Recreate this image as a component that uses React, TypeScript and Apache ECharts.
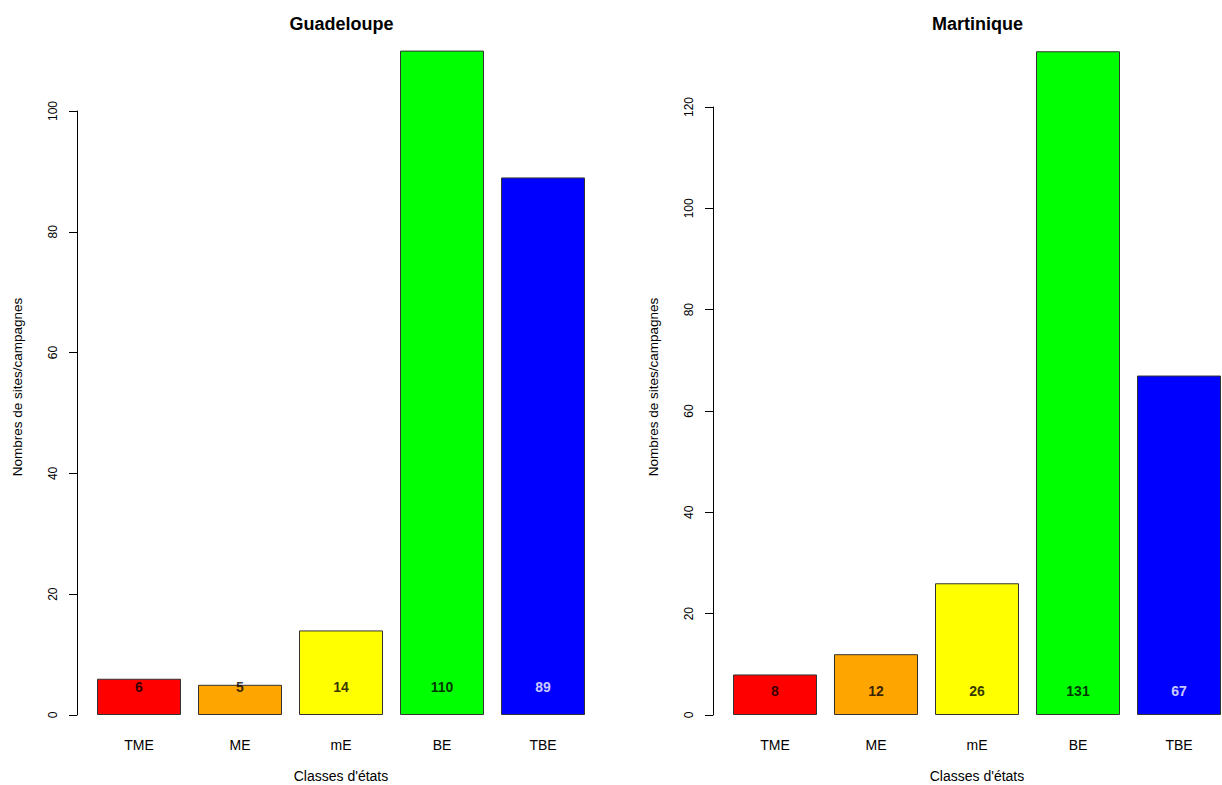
import React, { useEffect, useRef } from "react";
import * as echarts from "echarts";

const categories = ["TME", "ME", "mE", "BE", "TBE"];
const guadeloupeValues = [6, 5, 14, 110, 89];
const martiniqueValues = [8, 12, 26, 131, 67];
const barColors = ["#FF0000", "#FFA500", "#FFFF00", "#00FF00", "#0000FF"];
const labelColors = ["#000000", "#000000", "#000000", "#000000", "#FFFFFF"];
const panelTitles = ["Guadeloupe", "Martinique"];
const xAxisTitle = "Classes d'états";
const yAxisTitle = "Nombres de sites/campagnes";
const LABEL_Y = 4.7;

const FONT = "'Liberation Sans', Arial, sans-serif";

export default function App() {
  const ref = useRef<HTMLDivElement>(null);
  useEffect(() => {
    if (!ref.current) return;
    const chart = echarts.init(ref.current, undefined, { renderer: "svg" });

    const panels = [
      { values: guadeloupeValues, left: 88.5, top: 111, height: 604, max: 100 },
      { values: martiniqueValues, left: 724.5, top: 107, height: 608, max: 120 },
    ];

    const grids = panels.map((p) => ({
      left: p.left,
      top: p.top,
      width: 505,
      height: p.height,
      containLabel: false,
      outerBoundsMode: "none",
    }));
    const xAxes = panels.map((_, i) => ({
      type: "category",
      gridIndex: i,
      data: categories,
      axisLine: { show: false },
      axisTick: { show: false },
      axisLabel: { margin: 23, fontSize: 14, color: "#000", fontFamily: FONT },
      name: xAxisTitle,
      nameLocation: "middle",
      nameGap: 54,
      nameTextStyle: { fontSize: 14, color: "#000", fontFamily: FONT },
    }));
    const yAxes = panels.map((p, i) => ({
      type: "value",
      gridIndex: i,
      min: 0,
      max: p.max,
      interval: 20,
      offset: 11.5,
      axisLine: { show: true, lineStyle: { color: "#000", width: 1 } },
      axisTick: { show: true, length: 8, lineStyle: { color: "#000" } },
      splitLine: { show: false },
      axisLabel: { rotate: 90, margin: 18, fontSize: 12, color: "#000", fontFamily: FONT },
    }));

    const series: any[] = [];
    panels.forEach((p, i) => {
      series.push({
        type: "bar",
        xAxisIndex: i,
        yAxisIndex: i,
        barWidth: 84,
        clip: false,
        data: p.values.map((v, j) => ({
          value: v,
          itemStyle: { color: barColors[j], borderColor: "#333", borderWidth: 1 },
        })),
      });
      series.push({
        type: "scatter",
        xAxisIndex: i,
        yAxisIndex: i,
        symbolSize: 0,
        silent: true,
        data: p.values.map((v, j) => ({
          value: [j, LABEL_Y, v],
          label: {
            show: true,
            position: "inside",
            formatter: String(v),
            color: labelColors[j],
            fontWeight: "bold",
            fontSize: 14,
            fontFamily: FONT,
          },
        })),
      });
    });

    chart.setOption({
      animation: false,
      backgroundColor: "#fff",
      title: panels.map((p, i) => ({
        text: panelTitles[i],
        left: p.left + 248,
        textAlign: "center",
        top: 10,
        textStyle: { fontSize: 18, fontWeight: "bold", color: "#000", fontFamily: FONT },
      })),
      grid: grids,
      xAxis: xAxes,
      yAxis: yAxes,
      series,
      graphic: [
        { x: 17, y: 387 },
        { x: 653, y: 387 },
      ].map((pos) => ({
        type: "text",
        x: pos.x,
        y: pos.y,
        rotation: Math.PI / 2,
        style: {
          text: yAxisTitle,
          align: "center",
          verticalAlign: "middle",
          fontSize: 13.5,
          fill: "#000",
          fontFamily: FONT,
        },
      })),
    });
    return () => chart.dispose();
  }, []);
  return (
    <div
      ref={ref}
      style={{ position: "absolute", left: 0, top: 0, width: 1222, height: 785, background: "#fff" }}
    />
  );
}
